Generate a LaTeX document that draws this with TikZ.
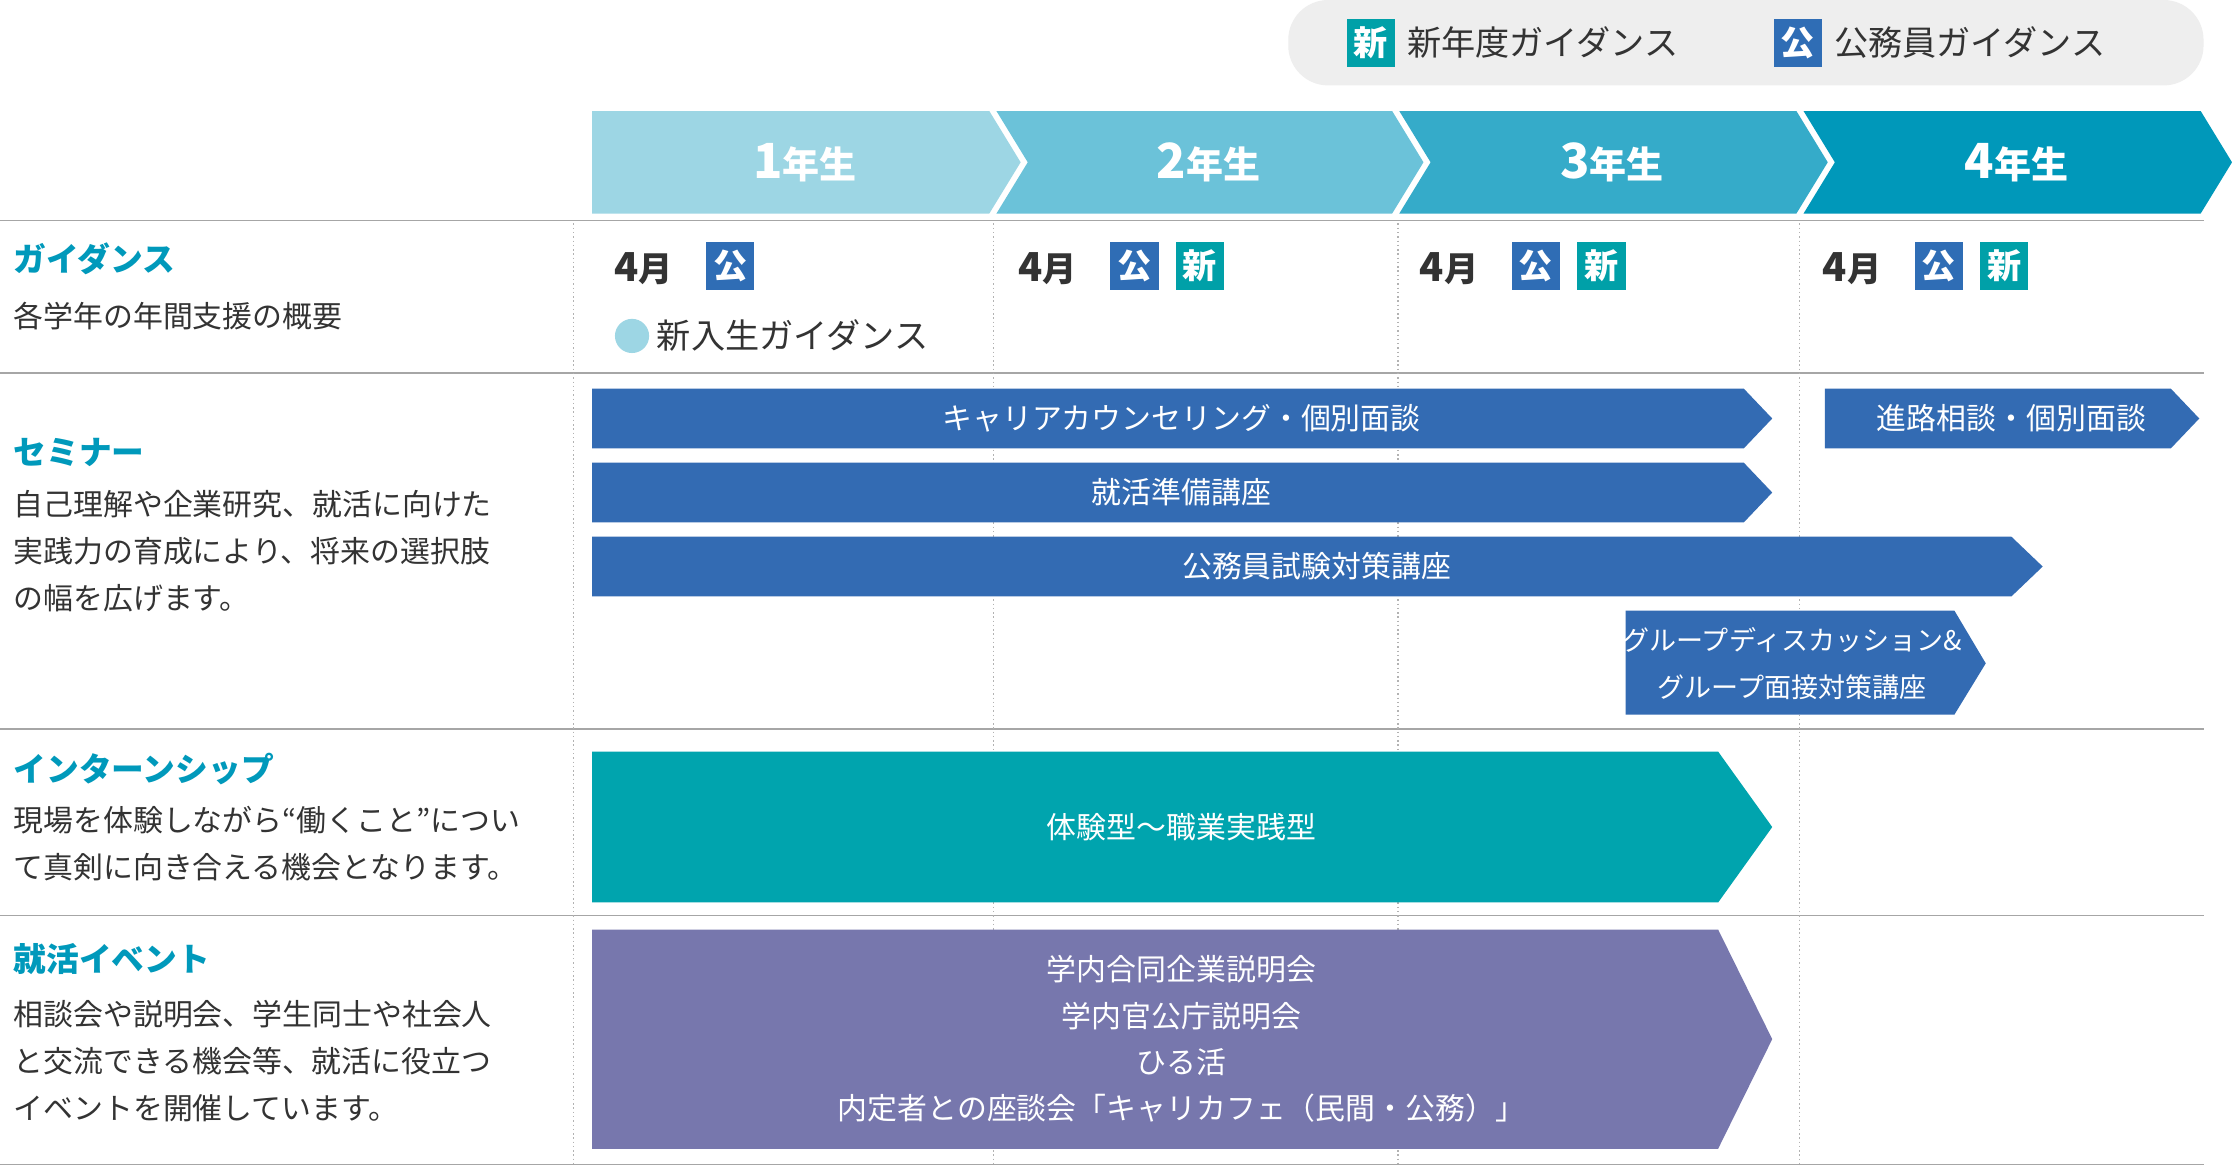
\documentclass[tikz,border=0pt]{standalone}
\usepackage{fontspec}
\setmainfont{Noto Sans CJK JP}
\newfontfamily\jpb{Noto Sans CJK JP}[BoldFont={Noto Sans CJK JP Bold}]
\definecolor{yA}{HTML}{9DD6E4}\definecolor{yB}{HTML}{6BC2D9}
\definecolor{yC}{HTML}{35ABC9}\definecolor{yD}{HTML}{0098BA}
\definecolor{barb}{HTML}{336BB3}\definecolor{bart}{HTML}{00A4AE}
\definecolor{barp}{HTML}{7777AD}\definecolor{head}{HTML}{0099BB}
\definecolor{bk}{HTML}{2F6DB5}\definecolor{bs}{HTML}{00A0A8}
\definecolor{txt}{HTML}{333333}\definecolor{lg}{HTML}{EEEEEE}
\tikzset{
 badge/.style={minimum size=34pt,inner sep=0pt,text=white,font=\fontsize{24}{24}\selectfont\bfseries},
 bartxt/.style={text=white,font=\fontsize{21}{26}\selectfont,align=center},
 hd/.style={anchor=west,text=head,font=\fontsize{23}{26}\selectfont\bfseries},
 bd/.style={anchor=west,text=txt,font=\fontsize{21}{33}\selectfont,align=left},
 mon/.style={anchor=west,text=txt,font=\fontsize{28}{28}\selectfont\bfseries},
 yr/.style={text=white,font=\fontsize{34}{34}\selectfont\bfseries},
 rule/.style={draw=gray!70,line width=1pt},
 vdot/.style={draw=gray!60,dotted,line width=1pt}
}
\begin{document}
\begin{tikzpicture}[x=1pt,y=-1pt]
\useasboundingbox (0,0) rectangle (1568,820);
\fill[white] (0,0) rectangle (1568,820);
% legend
\fill[lg,rounded corners=28pt] (905,0) rectangle (1548,60);
\node[badge,fill=bs] (l1) at (963,30) {新};
\node[anchor=west,text=txt,font=\fontsize{24}{24}\selectfont] (l1t) at (985,30) {新年度ガイダンス};
\node[badge,fill=bk] (l2) at (1263,30) {公};
\node[anchor=west,text=txt,font=\fontsize{24}{24}\selectfont] (l2t) at (1285,30) {公務員ガイダンス};
% year arrows
\foreach \a/\b/\c/\n/\fl in {416/695/yA/1/1,700/978/yB/2/0,983/1262/yC/3/0,1267/1546/yD/4/0}{
 \ifnum\fl=1
  \fill[\c] (\a,78) -- (\b,78) -- (\b+22,114) -- (\b,150) -- (\a,150) -- cycle;
 \else
  \fill[\c] (\a,78) -- (\b,78) -- (\b+22,114) -- (\b,150) -- (\a,150) -- (\a+22,114) -- cycle;
 \fi
 \node[yr] at ({(\a+\b)/2+10},114) {\n{\fontsize{26}{26}\selectfont 年生}};
}
% rules
\foreach \y in {155,262,512,643,818}{\draw[rule] (0,\y) -- (1548,\y);}
\foreach \x in {403,698,982,1264}{\draw[vdot] (\x,157) -- (\x,818);}
% guidance
\node[hd] (h1) at (6,182) {ガイダンス};
\node[bd] (t1) at (6,222) {各学年の年間支援の概要};
\foreach \x/\s in {432/0,716/1,998/1,1281/1}{
 \node[mon] at (\x-4,189) {4{\fontsize{24}{24}\selectfont 月}};
 \node[badge,fill=bk] at (\x+81,187) {公};
 \ifnum\s=1 \node[badge,fill=bs] at (\x+127,187) {新};\fi
}
\fill[yA] (444,236) circle (12);
\node[anchor=west,text=txt,font=\fontsize{24}{24}\selectfont] (ng) at (458,236) {新入生ガイダンス};
% seminar
\node[hd] (h2) at (6,318) {セミナー};
\node[bd,anchor=north west] (t2) at (6,341) {自己理解や企業研究、就活に向けた\\実践力の育成により、将来の選択肢\\の幅を広げます。};
\fill[barb] (416,273) -- (1225,273) -- (1245,294) -- (1225,315) -- (416,315) -- cycle;
\node[bartxt] (s1) at (830,294) {キャリアカウンセリング・個別面談};
\fill[barb] (1282,273) -- (1525,273) -- (1545,294) -- (1525,315) -- (1282,315) -- cycle;
\node[bartxt] (s2) at (1413,294) {進路相談・個別面談};
\fill[barb] (416,325) -- (1225,325) -- (1245,346) -- (1225,367) -- (416,367) -- cycle;
\node[bartxt] (s3) at (830,346) {就活準備講座};
\fill[barb] (416,377) -- (1413,377) -- (1435,398) -- (1413,419) -- (416,419) -- cycle;
\node[bartxt] (s4) at (925,398) {公務員試験対策講座};
\fill[barb] (1142,429) -- (1373,429) -- (1395,466) -- (1373,502) -- (1142,502) -- cycle;
\node[bartxt,font=\fontsize{19}{33}\selectfont] (s5) at (1259,466) {グループディスカッション\&\\グループ面接対策講座};
% internship
\node[hd] (h3) at (6,540) {インターンシップ};
\node[bd,anchor=north west] (t3) at (6,563) {現場を体験しながら“働くこと”につい\\て真剣に向き合える機会となります。};
\fill[bart] (416,528) -- (1207,528) -- (1245,581) -- (1207,634) -- (416,634) -- cycle;
\node[bartxt] (i1) at (830,581) {体験型〜職業実践型};
% events
\node[hd] (h4) at (6,674) {就活イベント};
\node[bd,anchor=north west] (t4) at (6,699) {相談会や説明会、学生同士や社会人\\と交流できる機会等、就活に役立つ\\イベントを開催しています。};
\fill[barp] (416,653) -- (1207,653) -- (1245,730) -- (1207,807) -- (416,807) -- cycle;
\node[bartxt,font=\fontsize{21}{32.5}\selectfont] (e1) at (830,730) {学内合同企業説明会\\学内官公庁説明会\\ひる活\\内定者との座談会「キャリカフェ（民間・公務）」};
\end{tikzpicture}
\end{document}
